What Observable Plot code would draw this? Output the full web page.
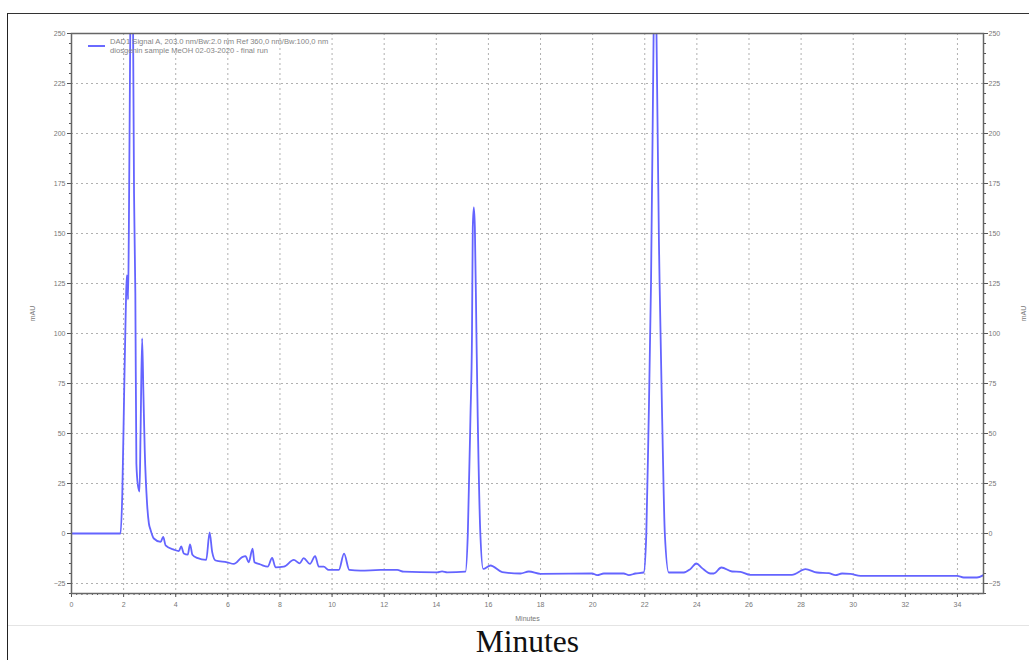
<!DOCTYPE html>
<html>
<head>
<meta charset="utf-8">
<script src="https://cdn.jsdelivr.net/npm/d3@7"></script>
<script src="https://cdn.jsdelivr.net/npm/@observablehq/plot@0.6"></script>
<style>
  html, body { margin: 0; padding: 0; background: #fff; }
  #wrap { position: relative; width: 1029px; height: 660px; overflow: hidden; background: #fff; }
  #border { position: absolute; left: 7px; top: 13px; width: 1030px; height: 660px; border-left: 1.5px solid #222; border-top: 1.5px solid #333; box-sizing: border-box; }
  #sep { position: absolute; left: 8px; top: 625px; width: 1021px; height: 1px; background: #e4e4e4; }
  #chart { position: absolute; left: 0; top: 0; }
  #legend { position: absolute; left: 88px; top: 37px; font-family: "Liberation Sans", Arial, sans-serif; font-size: 7.6px; color: #858585; line-height: 9px; }
  #legend .sw { position: absolute; left: 0; top: 8px; width: 17px; height: 1.5px; background: #6a6aff; }
  #legend .tx { position: absolute; left: 22px; top: 0; white-space: nowrap; }
  #bigx { position: absolute; left: 0; width: 1055px; top: 624px; height: 35px; line-height: 35px; text-align: center; font-family: "Liberation Serif", "Times New Roman", serif; font-size: 31.5px; color: #111; }
</style>
</head>
<body>
<div id="wrap">
  <div id="border"></div>
  <div id="chart"></div>
  <div id="sep"></div>
  <div id="legend"><div class="sw"></div><div class="tx">DAD1 Signal A, 203.0 nm/Bw:2.0 nm Ref 360,0 nm/Bw:100,0 nm<br>diosgenin sample MeOH 02-03-2020 - final run</div></div>
  <div id="bigx">Minutes</div>
</div>
<script>
// Retention time (minutes)
const times = [0, 1.88, 1.95, 2.02, 2.08, 2.12, 2.15, 2.17, 2.2, 2.26, 2.31, 2.36, 2.40, 2.45, 2.49, 2.55, 2.61, 2.65, 2.71, 2.76, 2.81, 2.9, 2.97, 3.03,
  3.16, 3.42, 3.52, 3.61, 3.93, 4.12, 4.21, 4.31, 4.46, 4.55, 4.64, 4.82, 5.17, 5.30, 5.40, 5.53, 5.97, 6.23, 6.55, 6.68, 6.80, 6.95, 7.02,
  7.25, 7.53, 7.70, 7.83, 8.15, 8.53, 8.76, 8.91, 9.15, 9.35, 9.49, 9.68, 9.87, 10.26, 10.46, 10.66, 11.09, 11.86, 12.5, 12.75, 14.03, 14.22,
  14.42, 15.12, 15.21, 15.31, 15.37, 15.40, 15.44, 15.48, 15.54, 15.59, 15.69, 15.80, 16.08, 16.53, 17.23, 17.55, 18.0, 19.98, 20.17, 20.43,
  21.19, 21.39, 21.64, 21.96, 22.06, 22.14, 22.24, 22.34, 22.41, 22.45, 22.57, 22.68, 22.77, 22.92, 23.50, 23.75, 23.98, 24.20, 24.52, 24.65,
  24.94, 25.35, 25.67, 26.05, 27.65, 28.17, 28.61, 29.06, 29.32, 29.57, 29.89, 30.28, 33.99, 34.24, 34.75, 35.0];
// Absorbance (mAU)
const mau = [0, 0, 20, 70, 110, 129, 127, 117, 150, 260, 330, 260, 170, 120, 35, 24, 21, 50, 97.5, 70, 42, 15, 5, 2,
  -2.5, -4.2, -1.7, -5.9, -8.1, -8.8, -6.4, -10, -10.6, -5.4, -10.6, -12.2, -13.2, 0.5, -9.3, -13.5, -14.4, -15.2, -11.8, -11.3, -14.4, -7.6, -14.4,
  -15.5, -16.6, -12.2, -16.9, -16.6, -13.2, -14.9, -12.3, -15.2, -11.3, -16.6, -16.6, -18.2, -18.2, -10.1, -18.2, -18.6, -18.2, -18.2, -19.1, -19.4, -18.9,
  -19.4, -19.1, 0, 58, 100, 153, 163, 153, 100, 58, 0, -17.7, -16, -19.3, -20, -19, -20.2, -20, -20.8, -20,
  -20, -20.8, -20, -19.5, 0, 50, 125, 250, 330, 250, 125, 50, 0, -19.5, -19.5, -17.8, -15, -17.3, -20, -20,
  -17, -19, -19.2, -20.7, -20.7, -17.8, -19.5, -19.8, -20.8, -20, -20.2, -21.2, -21.2, -22, -22, -20.8];

const yMajor = [-25, 0, 25, 50, 75, 100, 125, 150, 175, 200, 225, 250];
const xMajor = [0, 2, 4, 6, 8, 10, 12, 14, 16, 18, 20, 22, 24, 26, 28, 30, 32, 34];
const yMinor = d3.range(-30, 251, 5);
const xMinor = d3.range(0, 175).map(i => i / 5);

const data = times.map((t, i) => ({t, v: mau[i]}));

const axisStyle = {fontSize: 7, fill: "#777"};
const chart = Plot.plot({
  width: 1029,
  height: 625,
  marginLeft: 71,
  marginRight: 46,
  marginTop: 33,
  marginBottom: 32,
  style: {fontFamily: "'Liberation Sans', Arial, sans-serif", fontSize: "7px", color: "#666", background: "transparent"},
  x: {domain: [0, 35]},
  y: {domain: [-30, 250]},
  marks: [
    Plot.gridY(yMajor.filter(d => d < 250), {stroke: "#b0b0b0", strokeOpacity: 1, strokeDasharray: "2,3"}),
    Plot.gridX(xMajor.filter(d => d > 0), {stroke: "#b0b0b0", strokeOpacity: 1, strokeDasharray: "2,3"}),
    Plot.axisY(yMinor, {anchor: "left", tickSize: 2, text: null, stroke: "#555", label: null}),
    Plot.axisY(yMajor, {anchor: "left", tickSize: 4, tickPadding: 2, stroke: "#555", ...axisStyle,
      label: "mAU", labelAnchor: "center", labelArrow: "none", labelOffset: 41}),
    Plot.axisY(yMinor, {anchor: "right", tickSize: 2, text: null, stroke: "#555", label: null}),
    Plot.axisY(yMajor, {anchor: "right", tickSize: 4, tickPadding: 1, stroke: "#555", ...axisStyle,
      label: "mAU", labelAnchor: "center", labelArrow: "none", labelOffset: 42}),
    Plot.axisX(xMinor, {anchor: "bottom", tickSize: 2, text: null, stroke: "#555", label: null}),
    Plot.axisX(xMajor, {anchor: "bottom", tickSize: 4, tickPadding: 5, stroke: "#555", ...axisStyle,
      label: "Minutes", labelAnchor: "center", labelArrow: "none", labelOffset: 27}),
    Plot.line(data, {x: "t", y: "v", stroke: "#6464ff", strokeWidth: 1.8, curve: "monotone-x", clip: true}),
    Plot.frame({stroke: "#666", strokeWidth: 1.5})
  ]
});
document.getElementById("chart").appendChild(chart);
</script>
</body>
</html>
